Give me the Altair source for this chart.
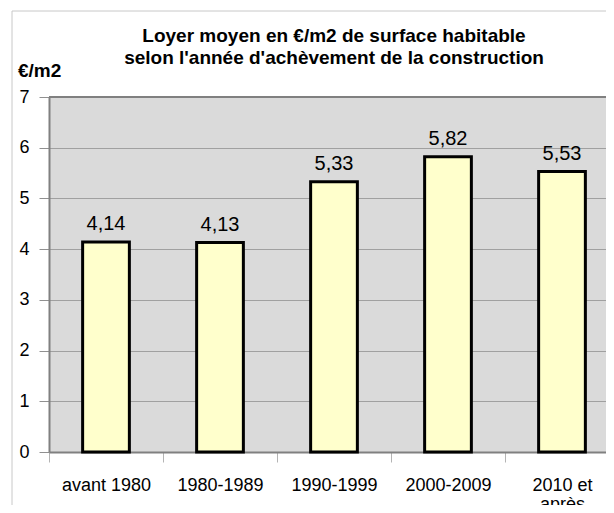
import altair as alt
import pandas as pd

# ---- data ----
categories = ["avant 1980", "1980-1989", "1990-1999", "2000-2009", "2010 et après"]
values = [4.14, 4.13, 5.33, 5.82, 5.53]
y_ticks = [0, 1, 2, 3, 4, 5, 6, 7]
title_lines = ["Loyer moyen en €/m2 de surface habitable",
               "selon l'année d'achèvement de la construction"]
y_unit = "€/m2"

df = pd.DataFrame({"cat": categories, "val": values})
one = pd.DataFrame({"a": [0]})

FONT = "Liberation Sans"
W, H = 557, 355

x_enc = alt.X(
    "cat:N", sort=categories,
    scale=alt.Scale(range=[0, 570], paddingInner=0, paddingOuter=0),
    axis=alt.Axis(
        title=None, labelAngle=0, labelFont=FONT, labelFontSize=18, labelColor="#000000",
        labelPadding=14, tickSize=10, tickColor="#b4b4b4", tickWidth=1, tickBand="extent",
        domain=True, domainColor="#808080", domainWidth=2, grid=False,
        labelLineHeight=19, labelLimit=200,
        labelExpr="datum.label == '2010 et après' ? ['2010 et', 'après'] : datum.label",
    ),
)
y_enc = alt.Y(
    "val:Q",
    scale=alt.Scale(domain=[0, 7], nice=False, zero=True),
    axis=alt.Axis(
        values=y_ticks, title=None, labelFont=FONT, labelFontSize=18, labelColor="#000000",
        labelPadding=10, tickSize=10, tickColor="#909090", tickWidth=1,
        domainColor="#808080", domainWidth=2, grid=True, gridColor="#a0a0a0", gridWidth=1,
    ),
)

frame = alt.Chart(one).mark_rect(fillOpacity=0, stroke="#c8c8c8", strokeWidth=1).encode(
    x=alt.value(-37), x2=alt.value(800), y=alt.value(-86), y2=alt.value(700)
)

bars = alt.Chart(df).mark_bar(
    width=alt.RelativeBandSize(0.41), fill="#ffffcc", stroke="#000000", strokeWidth=3
).encode(x=x_enc, y=y_enc)

top_border = alt.Chart(pd.DataFrame({"v": [7]})).mark_rule(
    color="#808080", strokeWidth=2
).encode(y=alt.Y("v:Q"))

labels = alt.Chart(df).transform_calculate(
    lab="replace(format(datum.val, '.2f'), '.', ',')"
).mark_text(
    font=FONT, fontSize=20, dy=-12, baseline="alphabetic", color="#000000"
).encode(x=alt.X("cat:N", sort=categories), y=alt.Y("val:Q"), text="lab:N")

title = alt.Chart(one).mark_text(
    font=FONT, fontSize=19, fontWeight="bold", lineHeight=22, align="center",
    baseline="alphabetic", color="#000000"
).encode(x=alt.value(285), y=alt.value(-55), text=alt.value(title_lines))

unit = alt.Chart(one).mark_text(
    font=FONT, fontSize=19, fontWeight="bold", align="left",
    baseline="alphabetic", color="#000000"
).encode(x=alt.value(-31), y=alt.value(-20), text=alt.value(y_unit))

chart = alt.layer(frame, bars, top_border, labels, title, unit).properties(
    width=W, height=H,
    autosize="none",
    padding={"left": 41, "top": 89, "right": 0, "bottom": 53},
    background="#ffffff",
).configure_view(fill="#dadada", stroke=None)

chart.save("out.html", embed_options={"renderer": "svg", "actions": False})
